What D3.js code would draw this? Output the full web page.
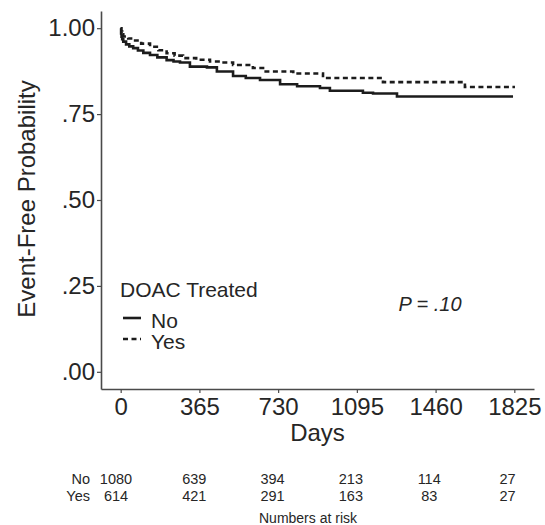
<!DOCTYPE html>
<html>
<head>
<meta charset="utf-8">
<script src="https://cdn.jsdelivr.net/npm/d3@7"></script>
<style>
  body { margin: 0; background: #fff; }
  svg { display: block; font-family: "Liberation Sans", Arial, sans-serif; }
</style>
</head>
<body>
<div id="chart"></div>
<script>
// Kaplan-Meier estimates (day, event-free probability)
const daysNo = [0, 2, 4, 7, 12, 25, 40, 58, 80, 105, 136, 170, 213, 245, 275, 321, 400, 446, 521, 580, 646, 739, 818, 924, 970, 1123, 1170, 1281, 1819];
const survNo = [1.0, 0.985, 0.975, 0.968, 0.961, 0.953, 0.947, 0.942, 0.935, 0.928, 0.922, 0.915, 0.907, 0.903, 0.900, 0.888, 0.886, 0.874, 0.861, 0.855, 0.849, 0.837, 0.831, 0.826, 0.818, 0.812, 0.810, 0.801, 0.801];
const daysYes = [0, 3, 7, 12, 35, 58, 95, 136, 175, 213, 250, 289, 350, 414, 460, 521, 613, 660, 800, 938, 1216, 1596, 1828];
const survYes = [1.0, 0.990, 0.982, 0.976, 0.970, 0.964, 0.955, 0.946, 0.936, 0.927, 0.920, 0.913, 0.908, 0.903, 0.900, 0.893, 0.884, 0.874, 0.868, 0.855, 0.843, 0.829, 0.829];

const xTicks = [0, 365, 730, 1095, 1460, 1825];
const yTicks = [0, 0.25, 0.5, 0.75, 1.0];
const yTickLabels = ['.00', '.25', '.50', '.75', '1.00'];

const groups = ['No', 'Yes'];
const riskNo = [1080, 639, 394, 213, 114, 27];
const riskYes = [614, 421, 291, 163, 83, 27];

const width = 545;
const height = 525;
const ink = '#1c1c1c';

const svg = d3.select('#chart').append('svg')
  .attr('width', width)
  .attr('height', height);

// panel with 5% expansion like ggplot
const x = d3.scaleLinear().domain([-91.25, 1916.25]).range([101, 534]);
const y = d3.scaleLinear().domain([-0.05, 1.05]).range([389, 11]);

// axes
const xAxis = d3.axisBottom(x)
  .tickValues(xTicks)
  .tickFormat(d3.format('d'))
  .tickSize(4)
  .tickSizeOuter(0)
  .tickPadding(5);
const yAxis = d3.axisLeft(y)
  .tickValues(yTicks)
  .tickFormat((d, i) => yTickLabels[i])
  .tickSize(4)
  .tickSizeOuter(0)
  .tickPadding(2);

const gx = svg.append('g').attr('transform', 'translate(0,389)').call(xAxis);
const gy = svg.append('g').attr('transform', 'translate(101,0)').call(yAxis);

[gx, gy].forEach(g => {
  g.select('.domain').attr('stroke', '#4a4a4a').attr('stroke-width', 1.6);
  g.selectAll('.tick line').attr('stroke', '#4a4a4a').attr('stroke-width', 1.2);
  g.selectAll('.tick text')
    .attr('fill', '#262626')
    .style('font-size', '24px')
    .style('font-family', '"Liberation Sans", Arial, sans-serif');
});

// axis titles
svg.append('text')
  .attr('x', 317.5)
  .attr('y', 441)
  .attr('text-anchor', 'middle')
  .attr('fill', '#262626')
  .style('font-size', '24px')
  .text('Days');

svg.append('text')
  .attr('transform', 'translate(35,199) rotate(-90)')
  .attr('text-anchor', 'middle')
  .attr('fill', '#262626')
  .style('font-size', '24px')
  .text('Event-Free Probability');

// survival curves
const line = d3.line()
  .x(d => x(d[0]))
  .y(d => y(d[1]))
  .curve(d3.curveStepAfter);

const curveNo = daysNo.map((d, i) => [d, survNo[i]]);
const curveYes = daysYes.map((d, i) => [d, survYes[i]]);

svg.append('path')
  .datum(curveYes)
  .attr('d', line)
  .attr('fill', 'none')
  .attr('stroke', ink)
  .attr('stroke-width', 2.6)
  .attr('stroke-dasharray', '5,3.5');

svg.append('path')
  .datum(curveNo)
  .attr('d', line)
  .attr('fill', 'none')
  .attr('stroke', ink)
  .attr('stroke-width', 2.6);

// legend
const legend = svg.append('g');
legend.append('text')
  .attr('x', 120)
  .attr('y', 297)
  .attr('fill', '#262626')
  .style('font-size', '21px')
  .text('DOAC Treated');

groups.forEach((g, i) => {
  const ly = 318 + i * 21;
  legend.append('line')
    .attr('x1', 123).attr('x2', 141)
    .attr('y1', ly).attr('y2', ly)
    .attr('stroke', ink)
    .attr('stroke-width', 2.6)
    .attr('stroke-dasharray', i === 1 ? '5,3.5' : null);
  legend.append('text')
    .attr('x', 151)
    .attr('y', ly + 10)
    .attr('fill', '#262626')
    .style('font-size', '21px')
    .text(g);
});

// p value
svg.append('text')
  .attr('x', 430)
  .attr('y', 311)
  .attr('text-anchor', 'middle')
  .attr('fill', '#262626')
  .style('font-size', '20px')
  .style('font-style', 'italic')
  .text('P = .10');

// numbers at risk table
const xRisk = d3.scaleLinear().domain([0, 1825]).range([116, 507.5]);
const riskRows = [riskNo, riskYes];
riskRows.forEach((row, r) => {
  const ry = 484 + r * 17;
  svg.append('text')
    .attr('x', 90)
    .attr('y', ry)
    .attr('text-anchor', 'end')
    .attr('fill', '#262626')
    .style('font-size', '14.5px')
    .text(groups[r]);
  svg.append('g').selectAll('text')
    .data(row)
    .join('text')
    .attr('x', (d, i) => xRisk(xTicks[i]))
    .attr('y', ry)
    .attr('text-anchor', 'middle')
    .attr('fill', '#262626')
    .style('font-size', '14.5px')
    .text(d => d);
});

svg.append('text')
  .attr('x', 308)
  .attr('y', 523)
  .attr('text-anchor', 'middle')
  .attr('fill', '#262626')
  .style('font-size', '14px')
  .text('Numbers at risk');
</script>
</body>
</html>
